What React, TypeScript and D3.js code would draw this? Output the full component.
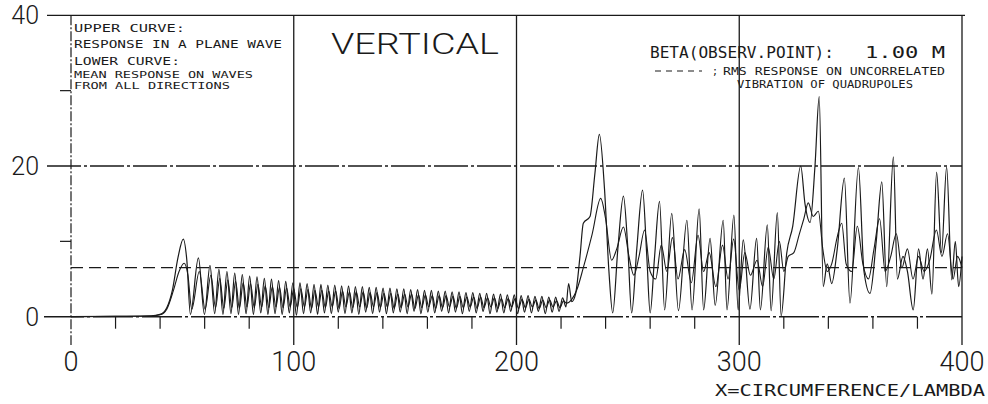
import React from "react";
import * as d3 from "d3";

// ---- data: turning points (x = circumference/lambda, y = response) ----
const upperCurve: [number, number][] = [
  [0, 0], [20, 0.05], [36, 0.1], [40, 0.3], [43, 1.2], [45.5, 3.5], [48, 7.8], [50.4, 10.3], [52, 7.5], [53.6, 0.3],
  [57.2, 7.8], [59.9, 0.3], [62.4, 6.8], [64.5, 0.4], [66.4, 6.3], [68.2, 0.3], [70.0, 6.0], [71.8, 0.4], [73.5, 5.8], [75.2, 0.3],
  [76.9, 5.6], [78.6, 0.4], [80.2, 5.4], [81.9, 0.3], [83.5, 5.3], [85.2, 0.5], [86.8, 5.1], [88.4, 0.3], [90.0, 5.0], [91.6, 0.4],
  [93.2, 4.8], [94.8, 0.3], [96.4, 4.7], [98.0, 0.5], [99.6, 4.5], [101.2, 0.2], [102.8, 4.5], [104.4, 0.4], [106.0, 4.4], [107.6, 0.5],
  [109.1, 4.3], [110.7, 0.3], [112.2, 4.3], [113.8, 0.5], [115.3, 4.2], [116.9, 0.4], [118.4, 4.2], [120.0, 0.6], [121.5, 4.1], [123.0, 0.4],
  [124.6, 4.1], [126.1, 0.5], [127.7, 4.0], [129.2, 0.3], [130.8, 4.0], [132.3, 0.6], [133.9, 3.9], [135.4, 0.4], [137.0, 3.9], [138.5, 0.6],
  [140.1, 3.8], [141.6, 0.4], [143.2, 3.8], [144.7, 0.5], [146.3, 3.7], [147.8, 0.6], [149.4, 3.7], [150.9, 0.4], [152.5, 3.6], [154.0, 0.7],
  [155.6, 3.6], [157.1, 0.4], [158.7, 3.5], [160.2, 0.6], [161.8, 3.5], [163.3, 0.5], [164.9, 3.4], [166.4, 0.7], [168.0, 3.4], [169.5, 0.5],
  [171.1, 3.3], [172.6, 0.6], [174.2, 3.3], [175.7, 0.4], [177.3, 3.2], [178.8, 0.7], [180.4, 3.2], [181.9, 0.5], [183.5, 3.1], [185.0, 0.7],
  [186.6, 3.1], [188.1, 0.4], [189.7, 3.0], [191.2, 0.6], [192.8, 3.0], [194.3, 0.5], [195.9, 2.9], [197.4, 0.7], [199.0, 2.9], [200.5, 0.4],
  [202.1, 2.8], [203.6, 0.6], [205.2, 2.8], [206.7, 0.5], [208.3, 2.7], [209.8, 0.7], [211.4, 2.7], [212.9, 0.4], [214.5, 2.6], [216.0, 0.6],
  [217.6, 2.6], [219.1, 0.7], [220.7, 2.5], [222.2, 1.3], [223.4, 4.4], [224.8, 2.0], [226.5, 3.0], [228.5, 8.0], [230, 12.4], [233, 13.3],
  [235.2, 19], [237.2, 24.2], [239.5, 17], [241.5, 6], [243.2, 0.5], [245.5, 9], [248, 16.0], [250, 9], [251.7, 0.5], [254, 9],
  [256.6, 16.8], [258.5, 8], [260, 0.5], [262, 8], [264.2, 15.3], [266.5, 0.9], [269.7, 13.7], [272.7, 0.8], [276.5, 12.8], [278.8, 0.9],
  [282, 14.3], [284, 0.9], [286.9, 10.4], [289.2, 1.5], [292.8, 12.8], [294.5, 0.9], [297.6, 13.5], [299.5, 0.9], [301.8, 10.2], [304.8, 1.0],
  [307.8, 10.4], [309.5, 0.9], [312.6, 12.2], [314.3, 0.8], [317.1, 13.8], [318.8, 0.1], [321.3, 8.4], [324, 12], [327.6, 20.0], [329.5, 15],
  [331.8, 12.5], [334, 20], [335.9, 29.2], [337.7, 4.0], [339.5, 7], [341.5, 4.4], [344, 9], [347.2, 18.4], [349.7, 1.8], [353.5, 19.8],
  [356, 6], [358.7, 3.1], [361.5, 10], [364, 17.9], [366.2, 4], [369.2, 21.2], [371, 5], [373.5, 8], [375.5, 6], [378.1, 0.9],
  [380.5, 9], [382.5, 5], [384.5, 9], [386.5, 3], [388.6, 19.2], [390.8, 8.5], [393.1, 19.9], [395.4, 4.9], [397, 10], [398.5, 4], [400, 8],
];

const lowerCurve: [number, number][] = [
  [0, 0], [20, 0.05], [36, 0.1], [40, 0.25], [43, 1.0], [46, 3.5], [48.5, 6.0], [50.8, 7.1], [52.5, 5.5], [54.2, 1.0],
  [57.6, 6.0], [60.2, 1.0], [62.8, 5.5], [64.9, 1.2], [66.8, 5.1], [68.6, 1.1], [70.4, 4.9], [72.2, 1.2], [73.9, 4.7], [75.6, 1.1],
  [77.3, 4.5], [79.0, 1.3], [80.6, 4.4], [82.3, 1.2], [83.9, 4.3], [85.6, 1.3], [87.2, 4.1], [88.8, 1.2], [90.4, 4.0], [92.0, 1.3],
  [93.6, 3.9], [95.2, 1.2], [96.8, 3.8], [98.4, 1.3], [100.0, 3.7], [101.6, 1.2], [103.2, 3.7], [104.8, 1.3], [106.4, 3.6], [108.0, 1.1],
  [109.5, 3.5], [111.1, 1.3], [112.6, 3.5], [114.2, 1.2], [115.7, 3.4], [117.3, 1.3], [118.8, 3.4], [120.4, 1.1], [121.9, 3.4], [123.4, 1.3],
  [125.0, 3.3], [126.5, 1.2], [128.1, 3.3], [129.6, 1.3], [131.2, 3.3], [132.7, 1.1], [134.3, 3.2], [135.8, 1.3], [137.4, 3.2], [138.9, 1.2],
  [140.5, 3.1], [142.0, 1.3], [143.6, 3.1], [145.1, 1.1], [146.7, 3.0], [148.2, 1.2], [149.8, 3.0], [151.3, 1.3], [152.9, 3.0], [154.4, 1.1],
  [156.0, 2.9], [157.5, 1.2], [159.1, 2.9], [160.6, 1.3], [162.2, 2.8], [163.7, 1.1], [165.3, 2.8], [166.8, 1.2], [168.4, 2.8], [169.9, 1.3],
  [171.5, 2.7], [173.0, 1.1], [174.6, 2.7], [176.1, 1.2], [177.7, 2.6], [179.2, 1.3], [180.8, 2.6], [182.3, 1.1], [183.9, 2.6], [185.4, 1.2],
  [187.0, 2.5], [188.5, 1.3], [190.1, 2.5], [191.6, 1.1], [193.2, 2.4], [194.7, 1.2], [196.3, 2.4], [197.8, 1.3], [199.4, 2.4], [200.9, 1.1],
  [202.5, 2.3], [204.0, 1.2], [205.6, 2.3], [207.1, 1.3], [208.7, 2.2], [210.2, 1.1], [211.8, 2.2], [213.3, 1.2], [214.9, 2.2], [216.4, 1.3],
  [218.0, 2.1], [219.5, 1.2], [221.1, 2.1], [222.5, 1.8], [224.8, 2.3], [227, 3.5], [230, 6.5], [234, 11], [237.8, 15.7], [240, 13],
  [242.7, 7.5], [245, 9], [248, 11.9], [250.5, 8], [252.7, 5.5], [255, 8], [257.5, 11.5], [260, 6], [262.5, 5], [265, 9.5],
  [267.5, 6], [270, 10.5], [272.5, 5], [275.5, 8.9], [278.5, 4.5], [281.5, 10.8], [284, 6], [286.5, 8.5], [289.5, 4], [292.5, 9.5],
  [295, 5], [297.5, 10.3], [300, 3.5], [302.5, 8.5], [305, 5.5], [308, 7.5], [310.5, 4], [313, 9.2], [315.5, 5], [318, 10],
  [320, 6], [322, 8], [324.5, 8.5], [327, 11], [329, 13], [331, 15.1], [333.2, 13.3], [335.5, 14], [337.5, 9], [339.5, 6],
  [341.5, 7], [344, 10.6], [346, 12.4], [348, 7], [350.5, 6], [353, 12], [355.5, 7], [358, 5], [360.5, 9], [363, 13],
  [365.5, 6], [368, 8], [370.5, 11], [373, 6.5], [375.5, 9], [378, 5], [380.5, 8], [383, 6], [385.5, 7.5], [388.5, 11.5],
  [391, 8], [393.5, 11], [396, 5], [398, 8], [400, 6.5],
];

const rmsLevel = 6.5;
const xLabels = [0, 100, 200, 300, 400];
const xMinorTicks = [20, 40, 60, 80, 120, 140, 160, 180, 220, 240, 260, 280, 320, 340, 360, 380];
const yLabels = [0, 20, 40];
const yMinorTicks = [10, 30];
const upperLeftText = ["UPPER CURVE:", "RESPONSE IN A PLANE WAVE", "LOWER CURVE:", "MEAN RESPONSE ON WAVES", "FROM ALL DIRECTIONS"];

export default function App() {
  const W = 988, H = 404;
  const x = d3.scaleLinear().domain([0, 400]).range([71, 962]);
  const y = d3.scaleLinear().domain([0, 40]).range([316.7, 15.3]);
  const line = d3.line<[number, number]>().x(d => x(d[0])).y(d => y(d[1])).curve(d3.curveMonotoneX);
  const ink = "#1a1a1a";
  const font = "Roboto, 'DejaVu Sans', sans-serif";
  const mono = "'DejaVu Sans Mono', monospace";

  const ulLines = [
    { t: upperLeftText[0], yb: 32, w: 111, fs: 11 },
    { t: upperLeftText[1], yb: 48, w: 208, fs: 11 },
    { t: upperLeftText[2], yb: 65, w: 106, fs: 11 },
    { t: upperLeftText[3], yb: 78, w: 179, fs: 8.5 },
    { t: upperLeftText[4], yb: 89, w: 156, fs: 8.5 },
  ];

  return (
    <svg width={W} height={H} style={{ position: "absolute", left: 0, top: 0, background: "#fff" }}>
      <rect x={0} y={0} width={W} height={H} fill="#fff" />
      {/* horizontal grid */}
      <line x1={47} x2={965} y1={y(40)} y2={y(40)} stroke={ink} strokeWidth={1.3} />
      <line x1={47} x2={962} y1={y(20)} y2={y(20)} stroke={ink} strokeWidth={1.3} strokeDasharray="34,3,3,3" />
      <line x1={44} x2={962} y1={y(0)} y2={y(0)} stroke={ink} strokeWidth={1.4} strokeDasharray="40,3,3,3" />
      <line x1={x(0)} x2={x(400)} y1={y(rmsLevel)} y2={y(rmsLevel)} stroke={ink} strokeWidth={1.2} strokeDasharray="12,6" />
      {/* vertical grid */}
      <line x1={x(0)} x2={x(0)} y1={y(40)} y2={345} stroke={ink} strokeWidth={1.2} strokeDasharray="10,2,2,2" />
      {[100, 200, 300, 400].map(v => (
        <line key={v} x1={x(v)} x2={x(v)} y1={y(40)} y2={345} stroke={ink} strokeWidth={1.3} />
      ))}
      {/* ticks */}
      {xMinorTicks.map(v => (
        <line key={v} x1={x(v)} x2={x(v)} y1={y(0)} y2={y(0) + 12} stroke={ink} strokeWidth={1.2} />
      ))}
      {yMinorTicks.map(v => (
        <line key={v} x1={x(0) - 11} x2={x(0)} y1={y(v)} y2={y(v)} stroke={ink} strokeWidth={1.2} />
      ))}
      {/* curves */}
      <path d={line(lowerCurve) || ""} fill="none" stroke={ink} strokeWidth={1.1} />
      <path d={line(upperCurve) || ""} fill="none" stroke={ink} strokeWidth={1.2} />
      {/* axis labels */}
      {yLabels.map(v => (
        <text key={v} x={39} y={y(v) + 9} textAnchor="end" fontFamily={font} fontWeight={300} fontSize={25} fill={ink}>{v}</text>
      ))}
      {xLabels.map(v => (
        <text key={v} x={x(v)} y={371} textAnchor="middle" fontFamily={font} fontWeight={300} fontSize={27} fill={ink}>{v}</text>
      ))}
      <text x={715} y={396} fontFamily={mono} fontSize={15} textLength={270} lengthAdjust="spacingAndGlyphs" fill={ink}>X=CIRCUMFERENCE/LAMBDA</text>
      {/* title */}
      <text x={331} y={54} fontFamily={font} fontWeight={300} fontSize={30} textLength={168} lengthAdjust="spacingAndGlyphs" fill={ink}>VERTICAL</text>
      {/* upper-left notes */}
      {ulLines.map(l => (
        <text key={l.t} x={74} y={l.yb} fontFamily={mono} fontSize={l.fs} textLength={l.w} lengthAdjust="spacingAndGlyphs" fill={ink}>{l.t}</text>
      ))}
      {/* upper-right notes */}
      <text x={650} y={58} fontFamily={mono} fontSize={15} textLength={184} lengthAdjust="spacingAndGlyphs" fill={ink}>BETA(OBSERV.POINT):</text>
      <text x={865} y={58} fontFamily={mono} fontSize={15} textLength={80} lengthAdjust="spacingAndGlyphs" fill={ink}>1.00 M</text>
      <line x1={655} x2={702} y1={71} y2={71} stroke={ink} strokeWidth={1.2} strokeDasharray="6,5" />
      <text x={712} y={75} fontFamily={mono} fontSize={10} fill={ink}>;</text>
      <text x={723} y={75} fontFamily={mono} fontSize={10} textLength={222} lengthAdjust="spacingAndGlyphs" fill={ink}>RMS RESPONSE ON UNCORRELATED</text>
      <text x={737} y={88} fontFamily={mono} fontSize={10} textLength={176} lengthAdjust="spacingAndGlyphs" fill={ink}>VIBRATION OF QUADRUPOLES</text>
    </svg>
  );
}
